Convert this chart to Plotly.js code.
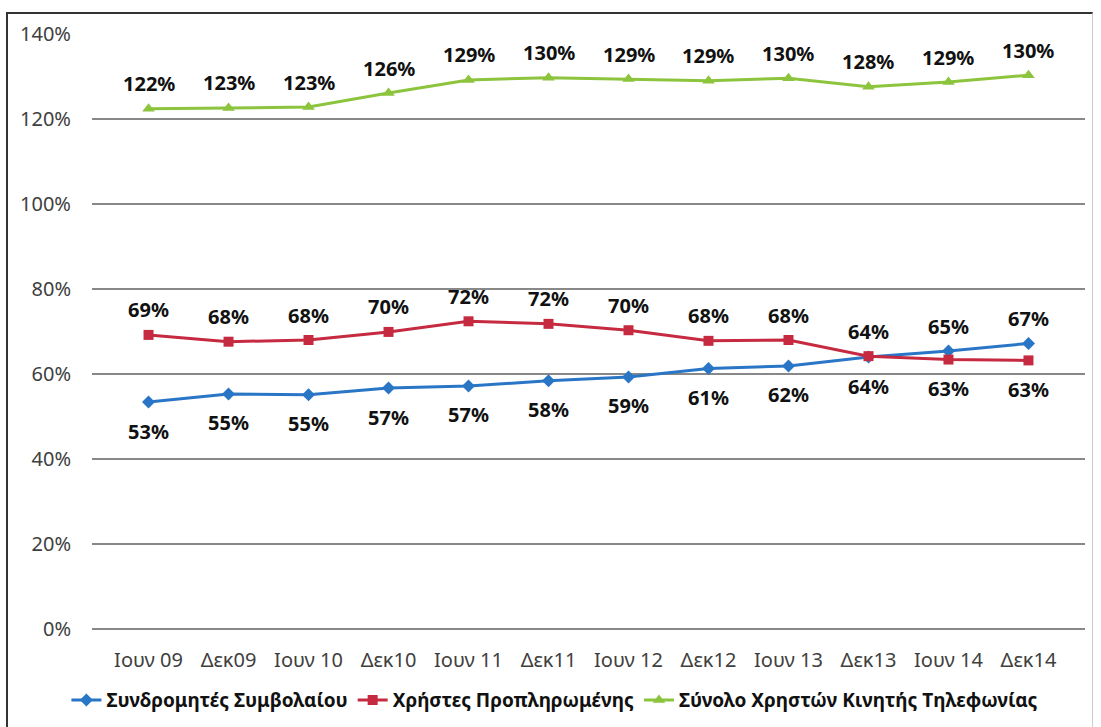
<!DOCTYPE html>
<html>
<head>
<meta charset="utf-8">
<script src="https://cdn.plot.ly/plotly-3.0.1.min.js"></script>
<style>
    html, body { margin: 0; padding: 0; background: #fff; }
    #frame {
        position: absolute; left: 6px; top: 12px; width: 1084px; height: 720px;
        border-left: 2px solid #333; border-top: 2px solid #333; border-right: 1px solid #ccc;
    }
    #chart { position: absolute; left: 0; top: 0; width: 1101px; height: 727px; }
</style>
</head>
<body>
<div id="frame"></div>
<div id="chart"></div>
<script>
// Chart data (percent values)
const periods = ['Ιουν 09', 'Δεκ09', 'Ιουν 10', 'Δεκ10', 'Ιουν 11', 'Δεκ11',
                 'Ιουν 12', 'Δεκ12', 'Ιουν 13', 'Δεκ13', 'Ιουν 14', 'Δεκ14'];
const contractSubs = [53.4, 55.3, 55.1, 56.7, 57.2, 58.4, 59.3, 61.3, 61.9, 64.0, 65.4, 67.2];
const prepaidUsers = [69.2, 67.6, 68.0, 69.9, 72.4, 71.8, 70.3, 67.8, 68.0, 64.2, 63.4, 63.2];
const totalUsers = [122.4, 122.6, 122.8, 126.1, 129.2, 129.7, 129.4, 129.0, 129.6, 127.6, 128.7, 130.3];
const yTicks = [0, 20, 40, 60, 80, 100, 120, 140];

const fam = '"Noto Sans", "Open Sans", sans-serif';
const labelFont = { family: fam, size: 20, color: '#111', weight: 'bold' };
const tickFont = { family: fam, size: 20, color: '#404040' };

function makeTrace(name, values, color, symbol, size) {
    return {
        x: periods,
        y: values,
        name: name,
        type: 'scatter',
        mode: 'lines+markers',
        line: { color: color, width: 3 },
        marker: { color: color, symbol: symbol, size: size },
        hoverinfo: 'x+y'
    };
}

const data = [
    makeTrace('Συνδρομητές Συμβολαίου', contractSubs, '#2a76c6', 'diamond', 10),
    makeTrace('Χρήστες Προπληρωμένης', prepaidUsers, '#c62a41', 'square', 10),
    makeTrace('Σύνολο Χρηστών Κινητής Τηλεφωνίας', totalUsers, '#8cc43d', 'triangle-up', 11)
];

// Data labels: the upper of the two lower lines gets its label above, the other below
function labels(values, other) {
    return values.map((v, i) => {
        const above = other === null || v >= other[i];
        return {
            x: periods[i], y: v, xref: 'x', yref: 'y',
            text: Math.round(v) + '%',
            showarrow: false, yshift: above ? 25 : -29,
            font: labelFont
        };
    });
}

const annotations = [].concat(
    labels(contractSubs, prepaidUsers),
    labels(prepaidUsers, contractSubs),
    labels(totalUsers, null)
);

const layout = {
    width: 1101,
    height: 727,
    margin: { l: 92, r: 16, t: 34, b: 98 },
    paper_bgcolor: 'rgba(0,0,0,0)',
    plot_bgcolor: 'rgba(0,0,0,0)',
    showlegend: true,
    legend: {
        orientation: 'h',
        xref: 'container', x: 0.504, xanchor: 'center',
        yref: 'container', y: 0.037, yanchor: 'middle',
        font: { family: fam, size: 19, color: '#111', weight: 'bold' },
        tracegroupgap: 0
    },
    xaxis: {
        type: 'category',
        showgrid: false,
        showline: false,
        zeroline: false,
        ticks: '',
        ticklabelstandoff: 17,
        tickfont: tickFont
    },
    yaxis: {
        range: [0, 140],
        tickvals: yTicks,
        ticktext: yTicks.map(v => v + '%'),
        showgrid: true,
        gridcolor: '#888',
        gridwidth: 2,
        zeroline: true,
        zerolinecolor: '#888',
        zerolinewidth: 2,
        showline: false,
        ticks: '',
        ticklabelstandoff: 20,
        tickfont: tickFont
    },
    annotations: annotations
};

Plotly.newPlot('chart', data, layout, { displayModeBar: false, staticPlot: true });
</script>
</body>
</html>
